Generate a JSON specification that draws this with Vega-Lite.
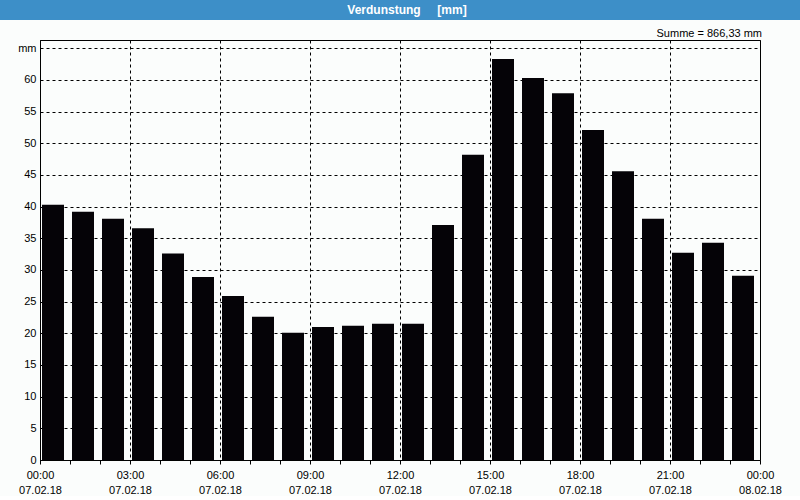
{
  "$schema": "https://vega.github.io/schema/vega-lite/v6.json",
  "background": "#fbfdfc",
  "padding": 0,
  "config": {
    "font": "Liberation Sans",
    "view": {"stroke": null}
  },
  "spacing": 7,
  "vconcat": [
    {
      "width": 800,
      "height": 20,
      "view": {"fill": "#3d8fc8", "stroke": null},
      "data": {"values": [{"label": "Verdunstung\u00a0\u00a0\u00a0\u00a0\u00a0[mm]"}]},
      "mark": {"type": "text", "color": "#ffffff", "fontWeight": "bold", "fontSize": 12, "dx": 7, "baseline": "middle", "align": "center"},
      "encoding": {"text": {"field": "label", "type": "nominal"}}
    },
    {
      "spacing": 0,
      "hconcat": [
        {
          "width": 17,
          "height": 420,
          "view": {"stroke": null, "fill": null},
          "data": {"values": []},
          "mark": "point"
        },
        {
          "width": 720,
          "height": 420,
          "title": {"text": "Summe = 866,33 mm", "anchor": "end", "frame": "group", "fontSize": 11, "fontWeight": "normal", "color": "#000000", "baseline": "alphabetic", "offset": -8, "dx": 2},
          "view": {"stroke": "#000000", "strokeWidth": 1},
          "data": {"values": [
            {"start": "2018-02-07T00:00:00Z", "end": "2018-02-07T01:00:00Z", "mm": 40.3},
            {"start": "2018-02-07T01:00:00Z", "end": "2018-02-07T02:00:00Z", "mm": 39.2},
            {"start": "2018-02-07T02:00:00Z", "end": "2018-02-07T03:00:00Z", "mm": 38.1},
            {"start": "2018-02-07T03:00:00Z", "end": "2018-02-07T04:00:00Z", "mm": 36.6},
            {"start": "2018-02-07T04:00:00Z", "end": "2018-02-07T05:00:00Z", "mm": 32.6},
            {"start": "2018-02-07T05:00:00Z", "end": "2018-02-07T06:00:00Z", "mm": 28.9},
            {"start": "2018-02-07T06:00:00Z", "end": "2018-02-07T07:00:00Z", "mm": 25.9},
            {"start": "2018-02-07T07:00:00Z", "end": "2018-02-07T08:00:00Z", "mm": 22.6},
            {"start": "2018-02-07T08:00:00Z", "end": "2018-02-07T09:00:00Z", "mm": 20.1},
            {"start": "2018-02-07T09:00:00Z", "end": "2018-02-07T10:00:00Z", "mm": 21.0},
            {"start": "2018-02-07T10:00:00Z", "end": "2018-02-07T11:00:00Z", "mm": 21.2},
            {"start": "2018-02-07T11:00:00Z", "end": "2018-02-07T12:00:00Z", "mm": 21.5},
            {"start": "2018-02-07T12:00:00Z", "end": "2018-02-07T13:00:00Z", "mm": 21.5},
            {"start": "2018-02-07T13:00:00Z", "end": "2018-02-07T14:00:00Z", "mm": 37.1},
            {"start": "2018-02-07T14:00:00Z", "end": "2018-02-07T15:00:00Z", "mm": 48.2},
            {"start": "2018-02-07T15:00:00Z", "end": "2018-02-07T16:00:00Z", "mm": 63.3},
            {"start": "2018-02-07T16:00:00Z", "end": "2018-02-07T17:00:00Z", "mm": 60.3},
            {"start": "2018-02-07T17:00:00Z", "end": "2018-02-07T18:00:00Z", "mm": 57.9},
            {"start": "2018-02-07T18:00:00Z", "end": "2018-02-07T19:00:00Z", "mm": 52.1},
            {"start": "2018-02-07T19:00:00Z", "end": "2018-02-07T20:00:00Z", "mm": 45.6},
            {"start": "2018-02-07T20:00:00Z", "end": "2018-02-07T21:00:00Z", "mm": 38.1},
            {"start": "2018-02-07T21:00:00Z", "end": "2018-02-07T22:00:00Z", "mm": 32.7},
            {"start": "2018-02-07T22:00:00Z", "end": "2018-02-07T23:00:00Z", "mm": 34.3},
            {"start": "2018-02-07T23:00:00Z", "end": "2018-02-08T00:00:00Z", "mm": 29.1}
          ]},
          "mark": {"type": "bar", "color": "#050307", "xOffset": 2, "x2Offset": -6},
          "encoding": {
            "x": {
              "field": "start",
              "type": "temporal",
              "scale": {
                "type": "utc",
                "domain": [
                  {"year": 2018, "month": 2, "date": 7, "hours": 0, "utc": true},
                  {"year": 2018, "month": 2, "date": 8, "hours": 0, "utc": true}
                ],
                "nice": false
              },
              "axis": {
                "title": null,
                "tickCount": 24,
                "domainColor": "#000000",
                "tickColor": "#000000",
                "tickSize": 4,
                "grid": true,
                "gridColor": "#000000",
                "gridDash": [3, 3],
                "gridOpacity": {"condition": {"test": "utchours(datum.value) % 3 == 0", "value": 1}, "value": 0},
                "labelExpr": "utchours(datum.value) % 3 == 0 ? [utcFormat(datum.value, '%H:%M'), utcFormat(datum.value, '%d.%m.%y')] : ''",
                "labelFontSize": 11,
                "labelColor": "#000000",
                "labelPadding": 5,
                "labelLineHeight": 15,
                "labelOverlap": false,
                "labelFlush": false,
                "labelBound": false
              }
            },
            "x2": {"field": "end"},
            "y": {
              "field": "mm",
              "type": "quantitative",
              "scale": {"domain": [0, 66.3], "nice": false, "zero": true},
              "axis": {
                "title": null,
                "values": [0, 5, 10, 15, 20, 25, 30, 35, 40, 45, 50, 55, 60, 65],
                "labelExpr": "datum.value == 65 ? 'mm' : datum.label",
                "ticks": false,
                "labelPadding": 4,
                "domainColor": "#000000",
                "grid": true,
                "gridColor": "#000000",
                "gridDash": [3, 3],
                "labelFontSize": 11,
                "labelColor": "#000000",
                "minExtent": 20,
                "maxExtent": 20
              }
            },
            "y2": {"datum": 0}
          }
        }
      ]
    }
  ]
}
